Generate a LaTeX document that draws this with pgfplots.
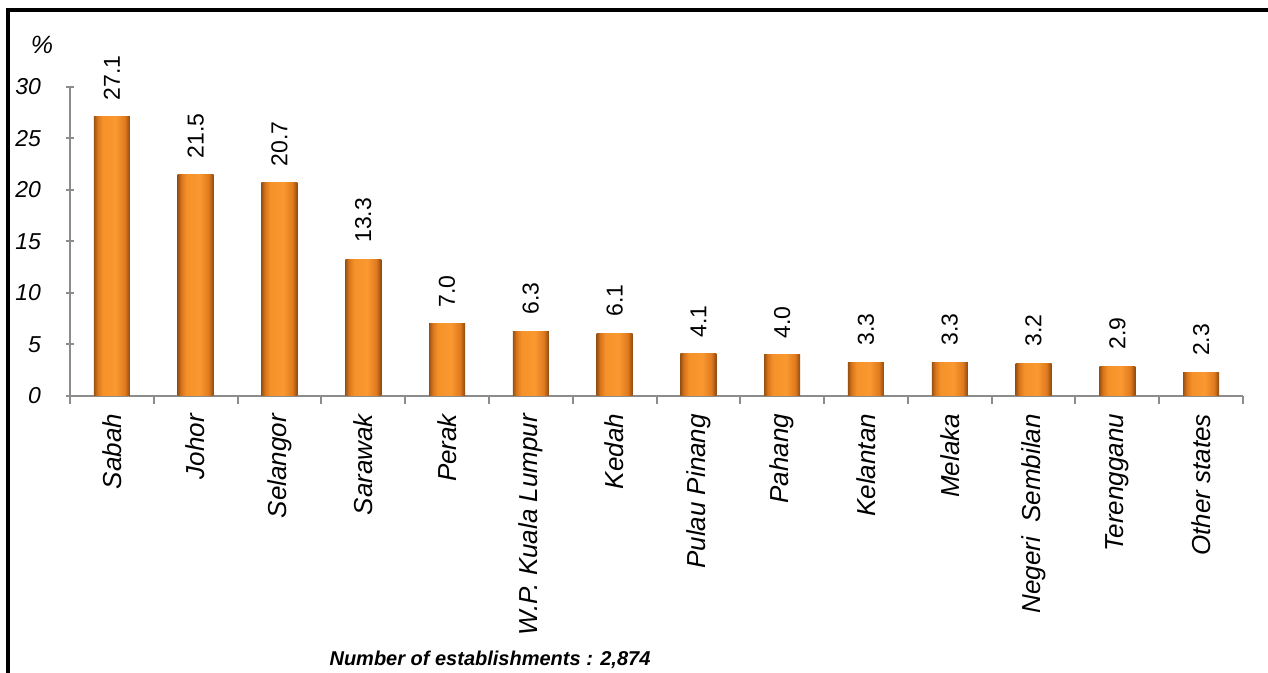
\documentclass[border=0pt]{standalone}
\usepackage{fontspec}
\setmainfont{Liberation Sans}
\usepackage{pgfplots}
\pgfplotsset{compat=1.18}

\definecolor{axisgray}{HTML}{8C8C8C}

% tikz fits 25bp..75bp of the shading to the bar: dark rims, bright orange body
\pgfdeclarehorizontalshading{barshade}{100bp}{%
  rgb(0bp)=(0.60,0.32,0.07);
  rgb(25bp)=(0.60,0.32,0.07);
  rgb(30bp)=(0.85,0.46,0.11);
  rgb(37bp)=(0.96,0.57,0.16);
  rgb(55bp)=(0.98,0.60,0.19);
  rgb(68bp)=(0.88,0.48,0.12);
  rgb(75bp)=(0.55,0.29,0.06);
  rgb(100bp)=(0.55,0.29,0.06)}

\pgfplotsset{statebar/.style={draw=none, shading=barshade}}

\begin{document}
\begin{tikzpicture}
  % page is 1268 x 673 px at 0.5pt per px; axis corner sits at px (70,396)
  \useasboundingbox (-35pt,-138.5pt) rectangle (599pt,198pt);
  \draw[line width=1.6pt] (-31pt,-140pt) -- (-31pt,193pt) -- (600pt,193pt);

  \begin{axis}[
    at={(0pt,0pt)}, anchor=south west,
    scale only axis,
    width=586.5pt, height=154.5pt,
    xmin=-0.5, xmax=13.5,
    ymin=0, ymax=30,
    ytick={0,5,...,30},
    xtick={0,...,13},
    xticklabels={Sabah, Johor, Selangor, Sarawak, Perak, W.P. Kuala Lumpur, Kedah,
      Pulau Pinang, Pahang, Kelantan, Melaka, Negeri\ \ Sembilan, Terengganu, Other states},
    minor xtick={-0.5,0.5,...,13.5},
    major x tick style={draw=none},
    tick align=outside,
    major tick length=4pt,
    minor tick length=4pt,
    tick style={axisgray, line width=1pt},
    axis x line=bottom, axis y line=left,
    axis line style={axisgray, line width=1pt, -},
    /pgf/number format/assume math mode=true,
    yticklabel style={font=\fontsize{11.5}{13}\selectfont\itshape, xshift=-9pt},
    xticklabel style={rotate=90, anchor=east, font=\fontsize{13}{15}\selectfont\itshape},
    xticklabel shift=1.5pt,
    clip=false,
    ybar, bar width=18pt, bar shift=0pt,
    nodes near coords={\pgfmathprintnumber[fixed,fixed zerofill,precision=1]{\pgfplotspointmeta}},
    every node near coord/.append style={rotate=90, anchor=west, inner xsep=8pt, inner ysep=0pt,
      font=\fontsize{11.5}{13}\selectfont, text=black},
  ]
    % one plot per bar so each bar gets its own shading
    \addplot[statebar] coordinates {(0,27.1)};
    \addplot[statebar] coordinates {(1,21.5)};
    \addplot[statebar] coordinates {(2,20.7)};
    \addplot[statebar] coordinates {(3,13.3)};
    \addplot[statebar] coordinates {(4,7.0)};
    \addplot[statebar] coordinates {(5,6.3)};
    \addplot[statebar] coordinates {(6,6.1)};
    \addplot[statebar] coordinates {(7,4.1)};
    \addplot[statebar] coordinates {(8,4.0)};
    \addplot[statebar] coordinates {(9,3.3)};
    \addplot[statebar] coordinates {(10,3.3)};
    \addplot[statebar] coordinates {(11,3.2)};
    \addplot[statebar] coordinates {(12,2.9)};
    \addplot[statebar] coordinates {(13,2.3)};
  \end{axis}

  \node[font=\fontsize{12.5}{14}\selectfont\itshape] at (-14pt,175.5pt) {\%};
  \node[font=\fontsize{10}{12}\selectfont\bfseries\itshape] at (210pt,-132pt)
    {Number of establishments : 2,874};
\end{tikzpicture}
\end{document}
